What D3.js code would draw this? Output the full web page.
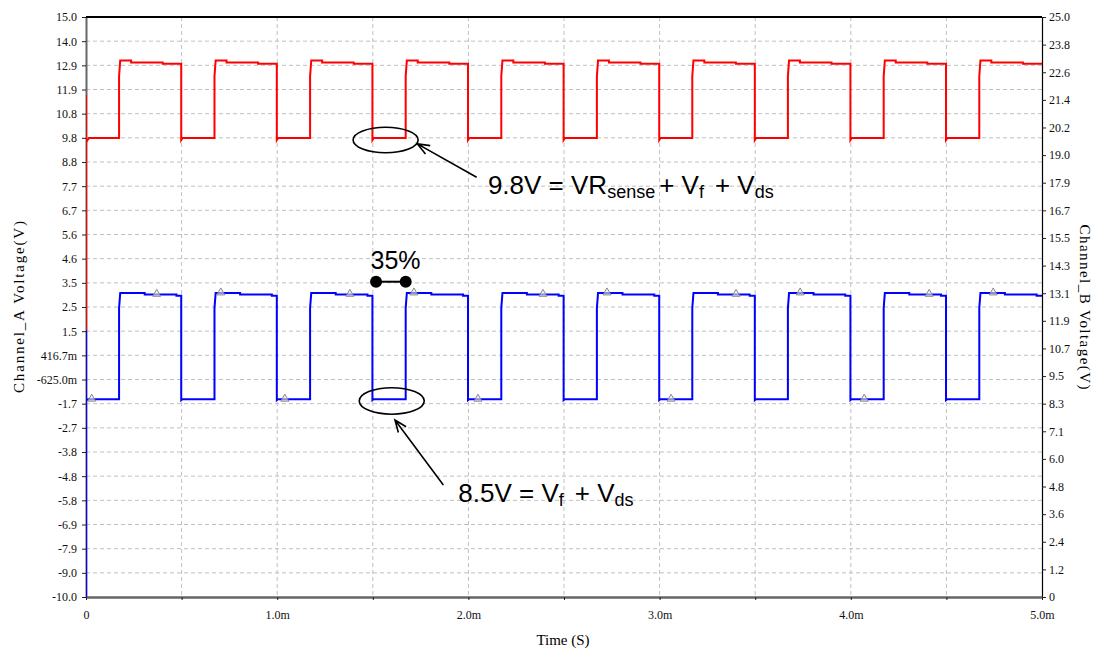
<!DOCTYPE html>
<html>
<head>
<meta charset="utf-8">
<script src="https://cdn.jsdelivr.net/npm/d3@7"></script>
<style>
  body { margin: 0; background: #fff; }
</style>
</head>
<body>
<div id="okvir"></div>
<script>
// Vremenska os (ms) i oznake
const timeTicks = [0, 0.5, 1, 1.5, 2, 2.5, 3, 3.5, 4, 4.5, 5];
const timeTickLabels = ["0", "", "1.0m", "", "2.0m", "", "3.0m", "", "4.0m", "", "5.0m"];

// Oznake lijeve osi (Channel_A), odozdo prema gore
const leftTickLabels = ["-10.0", "-9.0", "-7.9", "-6.9", "-5.8", "-4.8", "-3.8", "-2.7", "-1.7",
  "-625.0m", "416.7m", "1.5", "2.5", "3.5", "4.6", "5.6", "6.7", "7.7", "8.8", "9.8",
  "10.8", "11.9", "12.9", "14.0", "15.0"];
// Oznake desne osi (Channel_B)
const rightTickLabels = ["0", "1.2", "2.4", "3.6", "4.8", "6.0", "7.1", "8.3", "9.5", "10.7",
  "11.9", "13.1", "14.3", "15.5", "16.7", "17.9", "19.0", "20.2", "21.4", "22.6", "23.8", "25.0"];

// Bridovi pravokutnog signala (ms)
const riseTimes = [0.173, 0.672, 1.172, 1.672, 2.172, 2.672, 3.171, 3.671, 4.172, 4.672];
const fallTimes = [0.498, 0.998, 1.498, 1.998, 2.498, 2.998, 3.498, 3.998, 4.498];

// Channel_A (crveno, lijeva os)
const redStart = [[0, 1.5], [0, 11.64], [0, 9.6], [0.015, 9.78]];
const redLow = 9.78, redDip = 9.7, redMid = 12.45;
const redHigh = [13.12, 13.04, 12.98];
const redSteps = [0.063, 0.228];

// Channel_B (plavo, desna os)
const blueStart = [[0, 0], [0, 11.5], [0, 8.45], [0.01, 8.52]];
const blueLow = 8.52, blueDip = 8.48, blueMid = 12.45;
const blueHigh = [13.1, 13.04, 12.99];
const blueSteps = [0.134, 0.3];

// Trokutni markeri na plavoj krivulji (ms)
const markerTimes = [0.03, 0.37, 0.705, 1.04, 1.38, 1.715, 2.05, 2.39, 2.725, 3.06, 3.40, 3.735, 4.07, 4.41, 4.745];

var width = 1103, height = 650;
var margin = { top: 17, right: 61, bottom: 53, left: 86 };

var svg = d3.select("#okvir").append("svg")
  .attr("width", width).attr("height", height);

var x = d3.scaleLinear().domain([0, 5]).range([margin.left, width - margin.right]);
var yL = d3.scaleLinear().domain([-10, 15]).range([height - margin.bottom, margin.top]);
var yR = d3.scaleLinear().domain([0, 25]).range([height - margin.bottom, margin.top]);

var leftTicks = leftTickLabels.map((d, i) => -10 + i * 25 / 24);
var rightTicks = rightTickLabels.map((d, i) => i * 25 / 21);

// Mreza
var grid = svg.append("g").attr("stroke", "#c0c0c0").attr("stroke-dasharray", "4,3");
grid.selectAll(".h").data(leftTicks.slice(1, -1)).enter().append("line")
  .attr("x1", x(0)).attr("x2", x(5))
  .attr("y1", d => yL(d)).attr("y2", d => yL(d));
grid.selectAll(".v").data(timeTicks.slice(1, -1)).enter().append("line")
  .attr("y1", yL(15)).attr("y2", yL(-10))
  .attr("x1", d => x(d)).attr("x2", d => x(d));

// Osi
var axisFont = "'Liberation Serif', 'Times New Roman', serif";

var gl = svg.append("g")
  .attr("transform", "translate(" + margin.left + ",0)")
  .call(d3.axisLeft(yL).tickValues(leftTicks).tickFormat((d, i) => leftTickLabels[i])
    .tickSize(4).tickSizeOuter(0).tickPadding(5));
var gr = svg.append("g")
  .attr("transform", "translate(" + (width - margin.right) + ",0)")
  .call(d3.axisRight(yR).tickValues(rightTicks).tickFormat((d, i) => rightTickLabels[i])
    .tickSize(4).tickSizeOuter(0).tickPadding(3));
var gb = svg.append("g")
  .attr("transform", "translate(0," + (height - margin.bottom) + ")")
  .call(d3.axisBottom(x).tickValues(timeTicks).tickFormat((d, i) => timeTickLabels[i])
    .tickSize(3).tickSizeOuter(0).tickPadding(10));

[gl, gr, gb].forEach(g => {
  g.selectAll("text").style("font-family", axisFont).style("font-size", "12px").attr("fill", "#111");
  g.selectAll(".tick line").attr("stroke", "#222");
});
gl.select(".domain").attr("stroke", "#666").attr("stroke-width", 2);
gb.select(".domain").attr("stroke", "#666").attr("stroke-width", 2.5);
gr.select(".domain").attr("stroke", "#000").attr("stroke-width", 1.2);

// Gornji rub
svg.append("line")
  .attr("x1", x(0)).attr("x2", x(5)).attr("y1", yL(15)).attr("y2", yL(15))
  .attr("stroke", "#000").attr("stroke-width", 2);

// Naslovi osi
svg.append("text")
  .attr("transform", "translate(19," + ((margin.top + height - margin.bottom) / 2) + ") rotate(-90)")
  .attr("text-anchor", "middle").attr("dy", "0.35em")
  .attr("textLength", 172).attr("lengthAdjust", "spacing")
  .style("font-family", axisFont).style("font-size", "15px")
  .text("Channel_A Voltage(V)");
svg.append("text")
  .attr("transform", "translate(1085," + ((margin.top + height - margin.bottom) / 2) + ") rotate(90)")
  .attr("text-anchor", "middle").attr("dy", "0.35em")
  .attr("textLength", 165).attr("lengthAdjust", "spacing")
  .style("font-family", axisFont).style("font-size", "15px")
  .text("Channel_B Voltage(V)");
svg.append("text")
  .attr("x", (x(0) + x(5)) / 2 - 1).attr("y", 645)
  .attr("text-anchor", "middle")
  .style("font-family", axisFont).style("font-size", "15px")
  .text("Time (S)");

// Izgradnja krivulja iz bridova
function gradiKrivulju(start, low, dip, mid, high, steps) {
  var pts = start.slice();
  riseTimes.forEach((tr, i) => {
    var tf = i < fallTimes.length ? fallTimes[i] : 5;
    pts.push([tr, low], [tr, mid], [tr + 0.006, high[0]]);
    pts.push([tr + steps[0], high[0]], [tr + steps[0], high[1]]);
    pts.push([tr + steps[1], high[1]], [tr + steps[1], high[2]]);
    pts.push([tf, high[2]]);
    if (i < fallTimes.length) pts.push([tf, dip], [tf + 0.006, low]);
  });
  return pts;
}
var redPts = gradiKrivulju(redStart, redLow, redDip, redMid, redHigh, redSteps);
var bluePts = gradiKrivulju(blueStart, blueLow, blueDip, blueMid, blueHigh, blueSteps);

svg.append("clipPath").attr("id", "clip").append("rect")
  .attr("x", x(0)).attr("y", yL(15)).attr("width", x(5) - x(0)).attr("height", yL(-10) - yL(15));

svg.append("path")
  .datum(redPts)
  .attr("clip-path", "url(#clip)")
  .attr("fill", "none").attr("stroke", "#ff0000").attr("stroke-width", 2)
  .attr("d", d3.line().x(d => x(d[0])).y(d => yL(d[1])));
svg.append("path")
  .datum(bluePts)
  .attr("clip-path", "url(#clip)")
  .attr("fill", "none").attr("stroke", "#0000ff").attr("stroke-width", 2)
  .attr("d", d3.line().x(d => x(d[0])).y(d => yR(d[1])));

// Vrijednost krivulje u trenutku t
function vrijednost(pts, t) {
  var v = pts[0][1];
  pts.forEach(p => { if (p[0] <= t) v = p[1]; });
  return v;
}
svg.append("g").selectAll("path")
  .data(markerTimes).enter().append("path")
  .attr("transform", d => "translate(" + x(d) + "," + (yR(vrijednost(bluePts, d)) - 0.5) + ")")
  .attr("d", d3.symbol().type(d3.symbolTriangle).size(28))
  .attr("fill", "#e8e8e8").attr("fill-opacity", 0.6)
  .attr("stroke", "#888").attr("stroke-width", 1);

// Anotacije
var annFont = "'Liberation Sans', Arial, sans-serif";
function strelica(x1, y1, x2, y2) {
  var a = Math.atan2(y1 - y2, x1 - x2), L = 13, s = 0.38;
  svg.append("path")
    .attr("d", "M" + x1 + "," + y1 + "L" + x2 + "," + y2 +
      "M" + (x2 + L * Math.cos(a + s)) + "," + (y2 + L * Math.sin(a + s)) +
      "L" + x2 + "," + y2 +
      "L" + (x2 + L * Math.cos(a - s)) + "," + (y2 + L * Math.sin(a - s)))
    .attr("fill", "none").attr("stroke", "#000").attr("stroke-width", 1.6);
}

// crvena elipsa i strelica
svg.append("ellipse")
  .attr("cx", x(1.567)).attr("cy", yL(9.70))
  .attr("rx", x(0.17) - x(0)).attr("ry", yL(-10) - yL(-9.45))
  .attr("fill", "none").attr("stroke", "#000").attr("stroke-width", 1.6);
strelica(x(2.043), yL(8.09), x(1.733), yL(9.53));

var t1 = svg.append("text").attr("x", x(2.102)).attr("y", yL(7.37))
  .style("font-family", annFont).style("font-size", "26px").attr("fill", "#000")
  .style("white-space", "pre");
t1.append("tspan").text("9.8V = VR");
t1.append("tspan").attr("dy", 4).style("font-size", "18px").text("sense");
t1.append("tspan").attr("dy", -4).attr("dx", 4).text("+ V");
t1.append("tspan").attr("dy", 4).style("font-size", "18px").text("f");
t1.append("tspan").attr("dy", -4).attr("dx", 11).text("+ V");
t1.append("tspan").attr("dy", 4).style("font-size", "18px").text("ds");

// plava elipsa i strelica
svg.append("ellipse")
  .attr("cx", x(1.599)).attr("cy", yR(8.45))
  .attr("rx", x(0.17) - x(0)).attr("ry", yR(0) - yR(0.57))
  .attr("fill", "none").attr("stroke", "#000").attr("stroke-width", 1.6);
strelica(x(1.869), yR(4.83), x(1.616), yR(7.63));

var t2 = svg.append("text").attr("x", x(1.947)).attr("y", yR(4.11))
  .style("font-family", annFont).style("font-size", "26px").attr("fill", "#000");
t2.append("tspan").text("8.5V = V");
t2.append("tspan").attr("dy", 4).style("font-size", "18px").text("f");
t2.append("tspan").attr("dy", -4).attr("dx", 11).text("+ V");
t2.append("tspan").attr("dy", 4).style("font-size", "18px").text("ds");

// 35% oznaka
var dumb = [1.517, 1.672];
svg.append("line")
  .attr("x1", x(dumb[0])).attr("x2", x(dumb[1])).attr("y1", yR(13.59)).attr("y2", yR(13.59))
  .attr("stroke", "#000").attr("stroke-width", 2);
svg.selectAll(".dot").data(dumb).enter().append("circle")
  .attr("cx", d => x(d)).attr("cy", yR(13.59)).attr("r", 6).attr("fill", "#000");
svg.append("text").attr("x", x(1.619)).attr("y", yR(14.14))
  .attr("text-anchor", "middle")
  .style("font-family", annFont).style("font-size", "25px")
  .text("35%");
</script>
</body>
</html>
